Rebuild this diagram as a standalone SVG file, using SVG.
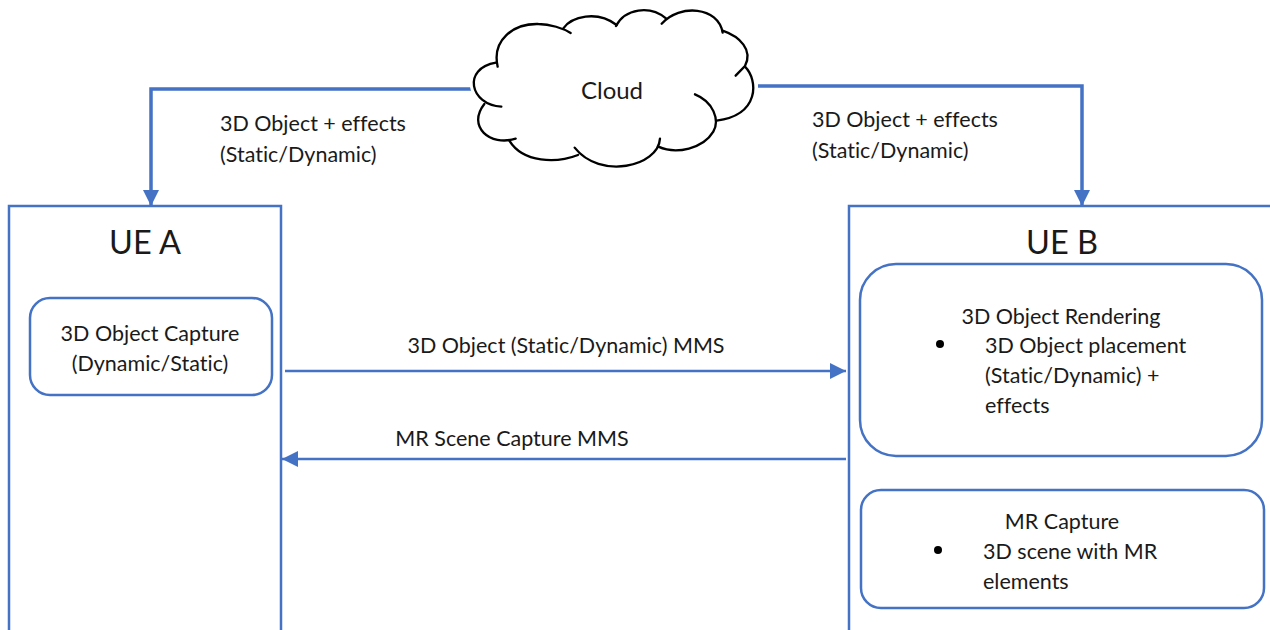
<svg xmlns="http://www.w3.org/2000/svg" width="1270" height="630" viewBox="0 0 1270 630">
<defs>
<marker id="ah" markerUnits="userSpaceOnUse" markerWidth="16" markerHeight="16" refX="16" refY="8" orient="auto"><path d="M0,0 L16,8 L0,16 Z" fill="#4472c4"/></marker>
</defs>
<style>
text{font-family:Lato,"Liberation Sans",sans-serif;font-size:21.5px;fill:#1a1a1a;font-variant-ligatures:none}
.big{font-size:32.5px}
.m{text-anchor:middle}
.box{fill:#fff;stroke:#4472c4;stroke-width:2.5}
.c{fill:none;stroke:#4472c4;stroke-width:2.5}
.t{stroke-width:3.5}
.cl{fill:none;stroke:#000;stroke-width:7;stroke-linecap:round}
</style>
<rect width="1270" height="630" fill="#fff"/>
<g id="connectors">
<path class="c t" marker-end="url(#ah)" d="M471,89 H151 V206"/>
<path class="c t" marker-end="url(#ah)" d="M758,86 H1082 V206"/>
<path class="c" marker-end="url(#ah)" d="M285,371 H846"/>
<path class="c" marker-end="url(#ah)" d="M846,459 H282"/>
</g>
<g id="labels">
<text x="220" y="131">3D Object + effects</text>
<text x="220" y="162">(Static/Dynamic)</text>
<text x="812" y="127">3D Object + effects</text>
<text x="812" y="158">(Static/Dynamic)</text>
<text x="566" y="353" class="m">3D Object (Static/Dynamic) MMS</text>
<text x="512" y="446" class="m">MR Scene Capture MMS</text>
</g>
<g id="cloud">
<g transform="translate(450,0) scale(0.3333)">
<path fill="#fff" d="M140,188 C125,120 190,70 265,72 C295,72 325,80 340,85 C365,50 430,30 500,70 C525,25 600,15 640,55 C690,15 800,20 818,95 C870,110 905,150 885,200 C925,240 930,340 800,362 C795,420 700,470 625,440 C600,510 440,530 375,445 C320,490 220,490 178,422 C120,430 60,380 100,312 C60,300 40,230 85,205 C100,192 120,188 140,188 Z"/>
<path class="cl" d="M143,200 C125,120 190,70 265,72 C300,72 340,85 362,99"/>
<path class="cl" d="M340,85 C365,50 440,30 500,75"/>
<path class="cl" d="M498,78 C525,25 600,15 648,55"/>
<path class="cl" d="M635,71 C690,10 805,20 818,98"/>
<path class="cl" d="M818,92 C870,110 910,150 885,198 L857,227"/>
<path class="cl" d="M885,200 C925,240 930,345 800,362"/>
<path class="cl" d="M735,283 C790,305 810,360 790,395 C760,445 680,465 625,440"/>
<path class="cl" d="M630,416 C625,500 450,540 374,443"/>
<path class="cl" d="M384,465 C320,490 220,490 178,422"/>
<path class="cl" d="M197,416 C120,440 50,380 103,312"/>
<path class="cl" d="M154,320 C60,315 35,205 138,188"/>
</g>
<text x="612" y="99" class="m" style="font-size:24px">Cloud</text>
</g>
<g id="ue-a">
<path class="box" style="fill:none" d="M9,630 V206 H281 V630"/>
<text x="145" y="254" class="m big">UE A</text>
</g>
<g id="object-capture">
<rect class="box" x="30" y="298" width="242" height="97" rx="20"/>
<text x="150" y="341" class="m">3D Object Capture</text>
<text x="150" y="371" class="m">(Dynamic/Static)</text>
</g>
<g id="ue-b">
<path class="box" style="fill:none" d="M849,630 V206 H1270"/>
<text x="1062" y="254" class="m big">UE B</text>
</g>
<g id="object-rendering">
<rect class="box" x="860" y="264" width="402" height="192" rx="36"/>
<text x="1061" y="324" class="m">3D Object Rendering</text>
<circle cx="940" cy="344" r="4"/>
<text x="985" y="353">3D Object placement</text>
<text x="985" y="383">(Static/Dynamic) +</text>
<text x="985" y="413">effects</text>
</g>
<g id="mr-capture">
<rect class="box" x="861" y="490" width="403" height="118" rx="20"/>
<text x="1062" y="529" class="m">MR Capture</text>
<circle cx="938" cy="550" r="4"/>
<text x="983" y="559">3D scene with MR</text>
<text x="983" y="589">elements</text>
</g>
</svg>
